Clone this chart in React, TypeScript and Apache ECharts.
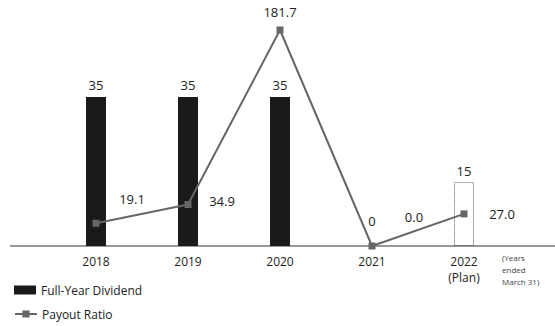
import React, { useEffect, useRef } from "react";
import * as echarts from "echarts";

const categories = ["2018", "2019", "2020", "2021", "2022\n(Plan)"];
const dividend = [35, 35, 35, 0, 15];
const payoutRatio = [19.1, 34.9, 181.7, 0.0, 27.0];
const ratioLabelOffsets: [number, number][] = [[36, -24], [34, -4], [0, -18], [42, -29], [38, 0]];
const FONT = "'Open Sans', 'Noto Sans', sans-serif";

export default function App() {
  const ref = useRef<HTMLDivElement>(null);
  useEffect(() => {
    const chart = echarts.init(ref.current!, null, { renderer: "svg" });
    const legendBase = {
      orient: "vertical",
      left: 14,
      itemWidth: 22,
      itemHeight: 9,
      padding: 0,
      textStyle: { fontFamily: FONT, fontSize: 12, color: "#222" },
    };
    chart.setOption({
      animation: false,
      textStyle: { fontFamily: FONT },
      grid: { left: 50, right: 45, top: 30, bottom: 80 },
      legend: [
        { ...legendBase, top: 284, data: [{ name: "Full-Year Dividend", icon: "rect" }] },
        { ...legendBase, top: 308, data: [{ name: "Payout Ratio" }] },
      ],
      xAxis: {
        type: "category",
        data: categories,
        axisLine: { show: false },
        axisTick: { show: false },
        axisLabel: { fontSize: 12, color: "#222", margin: 7, lineHeight: 16, fontFamily: FONT },
      },
      yAxis: [
        { type: "value", min: 0, max: 50.7, show: false, splitLine: { show: false } },
        { type: "value", min: 0, max: 181.7, show: false, splitLine: { show: false } },
      ],
      series: [
        {
          name: "Full-Year Dividend",
          type: "bar",
          yAxisIndex: 0,
          barWidth: 20,
          itemStyle: { color: "#1a1a1a" },
          label: { show: true, position: "top", fontSize: 13, color: "#222", distance: 5, fontFamily: FONT },
          data: dividend.map((v, i) => {
            if (i === 4) {
              return {
                value: v,
                itemStyle: { color: "rgba(0,0,0,0)", borderColor: "#555", borderWidth: 1, borderType: "dotted" },
              };
            }
            if (v === 0) {
              return { value: v, label: { offset: [0, -14] } };
            }
            return v;
          }),
        },
        {
          name: "Payout Ratio",
          type: "line",
          yAxisIndex: 1,
          symbol: "rect",
          symbolSize: 7,
          lineStyle: { color: "#666", width: 2 },
          itemStyle: { color: "#666" },
          label: { show: true, position: "inside", fontSize: 13, color: "#222", fontFamily: FONT, formatter: (p: any) => p.value.toFixed(1) },
          data: payoutRatio.map((v, i) => ({ value: v, label: { offset: ratioLabelOffsets[i] } })),
          z: 5,
        },
      ],
      graphic: [
        {
          type: "line",
          shape: { x1: 10, y1: 246, x2: 555, y2: 246 },
          style: { stroke: "#333", lineWidth: 1.2 },
          z: 1,
        },
        {
          type: "text",
          left: 502,
          top: 251,
          style: { text: "(Years\nended\nMarch 31)", fontSize: 8, lineHeight: 12, fill: "#444", fontFamily: FONT },
        },
      ],
    });
    return () => chart.dispose();
  }, []);
  return <div ref={ref} style={{ width: 555, height: 326, position: "absolute", left: 0, top: 0 }} />;
}
